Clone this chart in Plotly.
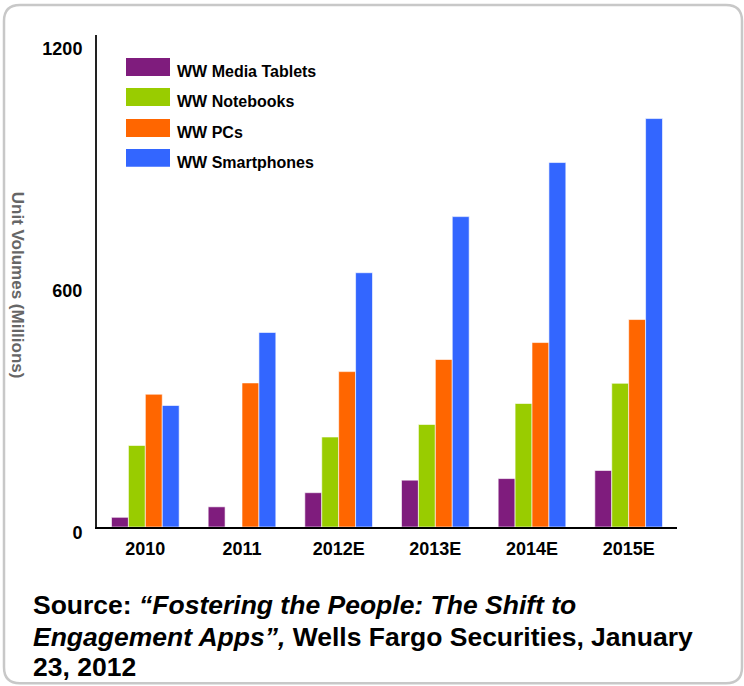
import plotly.graph_objects as go

categories = ["2010", "2011", "2012E", "2013E", "2014E", "2015E"]
tablets = [24, 50, 85, 116, 120, 140]
notebooks = [202, None, 223, 254, 306, 356]
pcs = [329, 357, 385, 415, 457, 514]
smartphones = [301, 482, 630, 769, 903, 1012]

series_names = ["WW Media Tablets", "WW Notebooks", "WW PCs", "WW Smartphones"]
series_values = [tablets, notebooks, pcs, smartphones]
colors = ["#7f1c7d", "#99cc00", "#ff6600", "#3366ff"]
y_ticks = [0, 600, 1200]

source_lines = [
    "<b>Source: <i>“Fostering the People: The Shift to</i></b>",
    "<b><i>Engagement Apps”,</i> Wells Fargo Securities, January</b>",
    "<b>23, 2012</b>",
]

W, H = 744, 686
L, R, T, B = 97, 67, 35, 158.5
PW = W - L - R
PH = H - T - B

def px(x):
    return (x - L) / PW

def py(y):
    return (H - B - y) / PH

FONT = "Liberation Sans, Arial, sans-serif"

fig = go.Figure()
for name, vals, col in zip(series_names, series_values, colors):
    fig.add_trace(go.Bar(
        x=categories, y=vals, name=name,
        marker=dict(color=col, line=dict(color="rgba(255,255,255,0.6)", width=1)),
        showlegend=False,
    ))

shapes = []
annotations = []

# manual legend (large swatches like original)
row_y = [67, 97, 128, 158]
for name, col, cy in zip(series_names, colors, row_y):
    shapes.append(dict(type="rect", xref="paper", yref="paper",
                       x0=px(126), x1=px(170), y0=py(cy + 9), y1=py(cy - 9),
                       fillcolor=col, line=dict(width=0)))
    annotations.append(dict(xref="paper", yref="paper", x=px(175), y=py(cy + 5),
                            xanchor="left", yanchor="middle", showarrow=False,
                            text=f"<b>{name}</b>",
                            font=dict(family=FONT, size=16, color="#000")))

# axis title reading top-to-bottom
annotations.append(dict(xref="paper", yref="paper", x=px(17), y=py(285),
                        xanchor="center", yanchor="middle", showarrow=False,
                        textangle=90, text="<b>Unit Volumes (Millions)</b>",
                        font=dict(family=FONT, size=17, color="#666666")))

# source text, one annotation per line
for line, cy in zip(source_lines, [606, 638, 668]):
    annotations.append(dict(xref="paper", yref="paper", x=px(31), y=py(cy),
                            xanchor="left", yanchor="middle", showarrow=False, align="left",
                            text=line,
                            font=dict(family=FONT, size=26.5, color="#000")))

# rounded border
x0, x1, y0, y1, r = 4, 742, 5, 684, 16
def P(x, y):
    return f"{px(x)},{py(y)}"
path = (f"M {P(x0 + r, y0)} L {P(x1 - r, y0)} Q {P(x1, y0)} {P(x1, y0 + r)} "
        f"L {P(x1, y1 - r)} Q {P(x1, y1)} {P(x1 - r, y1)} "
        f"L {P(x0 + r, y1)} Q {P(x0, y1)} {P(x0, y1 - r)} "
        f"L {P(x0, y0 + r)} Q {P(x0, y0)} {P(x0 + r, y0)} Z")
shapes.append(dict(type="path", xref="paper", yref="paper", path=path,
                   line=dict(color="#c8c8c8", width=2.5), layer="below"))

fig.update_layout(
    width=W, height=H,
    margin=dict(l=L, r=R, t=T, b=B, pad=0),
    paper_bgcolor="white", plot_bgcolor="white",
    barmode="group", bargap=0.3, bargroupgap=0,
    showlegend=False,
    shapes=shapes, annotations=annotations,
    font=dict(family=FONT),
    xaxis=dict(
        showline=True, linecolor="#000", linewidth=2, showgrid=False,
        ticks="", tickfont=dict(family=FONT, size=18, color="#000", weight="bold"),
        ticklabelstandoff=4, zeroline=False,
    ),
    yaxis=dict(
        range=[0, 1219], tickvals=y_ticks, ticktext=[str(v) for v in y_ticks],
        showline=True, linecolor="#222", linewidth=2, showgrid=False, zeroline=False,
        ticks="", tickfont=dict(family=FONT, size=18, color="#000", weight="bold"),
        ticklabelstandoff=9, ticklabelshift=6,
    ),
)

fig.write_html("out.html")
